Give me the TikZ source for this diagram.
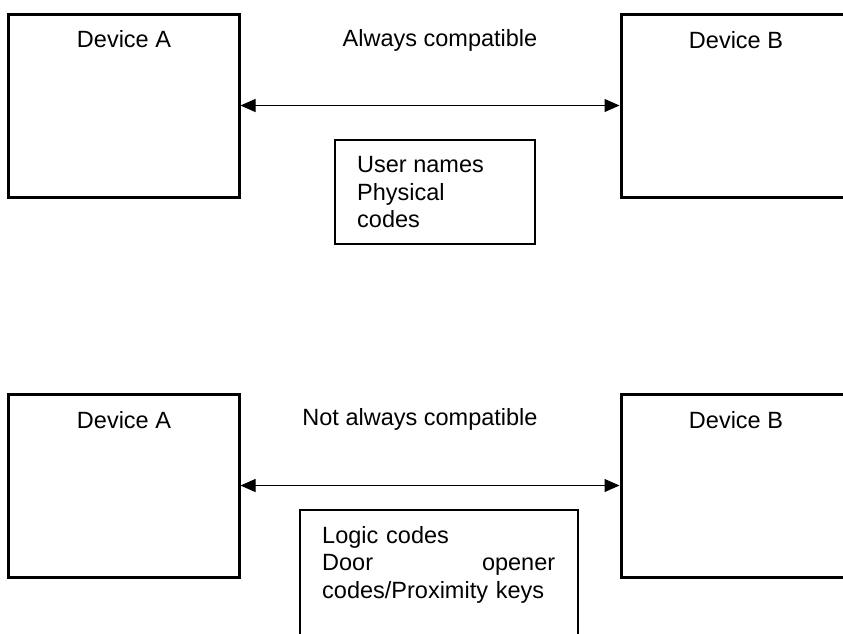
\documentclass[tikz,border=0pt]{standalone}
\usepackage{fontspec}
\setmainfont{Liberation Sans}
\usetikzlibrary{arrows.meta}
\begin{document}
\begin{tikzpicture}[x=1pt,y=-1pt,
 dev/.style={draw,line width=3pt,minimum width=231pt,minimum height=183pt,inner sep=0pt},
 infobox/.style={draw,line width=2.2pt,inner sep=0pt},
 txt/.style={inner sep=0pt,font=\fontsize{23.5}{27.5}\selectfont},
 link/.style={line width=1pt,{Triangle[length=15pt,width=13pt]}-{Triangle[length=15pt,width=13pt]}}]
\useasboundingbox[fill=white] (0,0) rectangle (843,633);
\clip (0,0) rectangle (843,633);
% top diagram
\node[dev] (A1) at (123.5,105.5) {};
\node[dev] (B1) at (736.5,105.5) {};
\draw[link] (A1.east) -- (B1.west);
\node[txt,anchor=base] (tA1) at (124,47) {Device A};
\node[txt,anchor=base] (tB1) at (736,48) {Device B};
\node[txt,anchor=base] (c1) at (440,46) {Always compatible};
\node[infobox,minimum width=200pt,minimum height=104pt] (box1) at (435,192) {};
\node[txt,anchor=north west,align=left] (l1) at (357,156.5) {User names\\Physical\\codes};
% bottom diagram
\node[dev] (A2) at (123.5,485.5) {};
\node[dev] (B2) at (736.5,485.5) {};
\draw[link] (A2.east) -- (B2.west);
\node[txt,anchor=base] (tA2) at (124,428) {Device A};
\node[txt,anchor=base] (tB2) at (736,428) {Device B};
\node[txt,anchor=base] (c2) at (420,425) {Not always compatible};
\node[infobox,minimum width=278pt,minimum height=160pt] (box2) at (439,590) {};
\node[txt,anchor=north west,text width=233pt,align=left] (l2) at (322,526) {Logic codes\\Door\hfill opener\\codes/Proximity keys};
\end{tikzpicture}
\end{document}
